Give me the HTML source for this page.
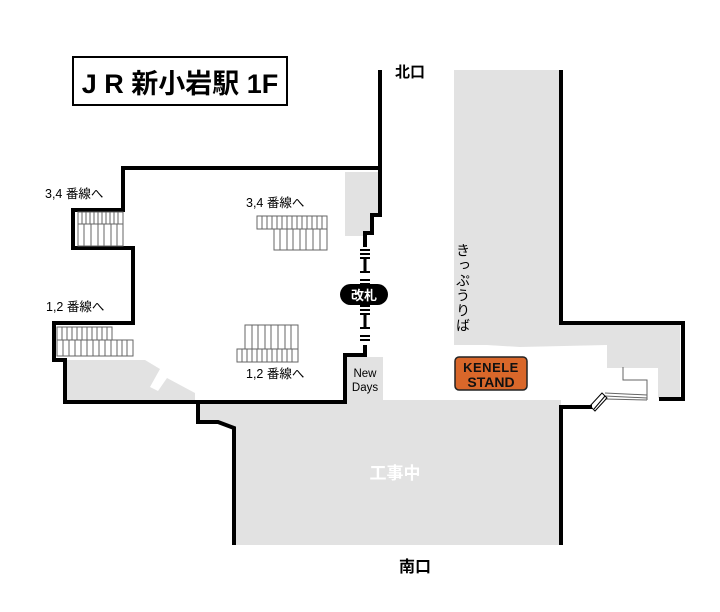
<!DOCTYPE html>
<html><head><meta charset="utf-8"><style>
html,body{margin:0;padding:0;background:#fff;width:720px;height:612px;overflow:hidden}
svg{display:block}
text{font-family:"Liberation Sans","Noto Sans CJK JP",sans-serif}
</style></head><body>
<svg width="720" height="612" viewBox="0 0 720 612" xmlns="http://www.w3.org/2000/svg">
<g fill="#e2e2e2">
<rect x="454" y="70" width="107" height="275"/>
<polygon points="454,340 561,340 561,325 680,325 680,398 658,398 658,368 607,368 607,345 520,347 454,343"/>
<rect x="234" y="402" width="327" height="143"/>
<polygon points="198,402 234,402 234,428 218,422 198,422"/>
<rect x="345" y="400" width="216" height="8"/>
<rect x="347" y="357" width="36" height="45"/>
<polygon points="345,172 378,172 378,213 371,213 371,231 364,231 364,236 345,236"/>
<polygon points="67,360 145,360 160,369 150,387 158,391 167,378 195,393 195,402 67,402"/>
</g>
<g fill="none" stroke="#000" stroke-width="4" stroke-linejoin="miter">
<polyline points="380,70 380,168 123,168 123,210 73,210 73,248 133,248 133,323 54,323 54,360 65,360 65,402 345,402 345,355 365,355 365,345"/>
<polyline points="380,168 380,215 372,215 372,233 365,233 365,247"/>
<polyline points="198,402 198,422 218,422 234,428 234,545"/>
<polyline points="561,70 561,323 683,323 683,399 659,399"/>
<polyline points="561,545 561,407 592,407"/>
</g>
<g stroke="#000" stroke-width="2">
<line x1="360" y1="250" x2="370" y2="250"/><line x1="360" y1="254" x2="370" y2="254"/>
<line x1="360" y1="258" x2="370" y2="258"/><line x1="365" y1="258" x2="365" y2="272" stroke-width="3"/><line x1="360" y1="272" x2="370" y2="272"/>
<line x1="360" y1="280" x2="370" y2="280"/><line x1="360" y1="284" x2="370" y2="284"/>
<line x1="360" y1="306" x2="370" y2="306"/><line x1="360" y1="310" x2="370" y2="310"/>
<line x1="360" y1="314" x2="370" y2="314"/><line x1="365" y1="314" x2="365" y2="328" stroke-width="3"/><line x1="360" y1="328" x2="370" y2="328"/>
<line x1="360" y1="336" x2="370" y2="336"/><line x1="360" y1="340" x2="370" y2="340"/>
</g>
<rect x="340" y="284" width="48" height="21" rx="10.5" fill="#000"/>
<text x="364" y="300" font-size="13" font-weight="bold" fill="#fff" text-anchor="middle">改札</text>
<rect x="73" y="57" width="214" height="48" fill="#fff" stroke="#000" stroke-width="2"/>
<text x="180" y="93" font-size="27" font-weight="bold" text-anchor="middle">J R 新小岩駅 1F</text>
<text x="410" y="77" font-size="15" font-weight="bold" text-anchor="middle">北口</text>
<text x="415" y="572" font-size="16" font-weight="bold" text-anchor="middle">南口</text>
<text x="395" y="479" font-size="17" font-weight="bold" fill="#fff" text-anchor="middle">工事中</text>
<g font-size="12.5">
<text x="45" y="198">3,4 番線へ</text>
<text x="46" y="311">1,2 番線へ</text>
<text x="246" y="207">3,4 番線へ</text>
<text x="246" y="378">1,2 番線へ</text>
<text x="365" y="377" text-anchor="middle" font-size="11.5">New</text>
<text x="365" y="391" text-anchor="middle" font-size="11.5">Days</text>
</g>
<text x="463" y="243" font-size="14" style="writing-mode:vertical-rl" letter-spacing="1">きっぷうりば</text>
<g fill="none" stroke="#666" stroke-width="1">
<rect x="78" y="212" width="45" height="12"/><rect x="78" y="224" width="45" height="22"/>
<path d="M82,212v12M86,212v12M90,212v12M94,212v12M98,212v12M102,212v12M106,212v12M110,212v12M114,212v12M118,212v12M84,224v22M91,224v22M98,224v22M104,224v22M111,224v22M117,224v22"/>
<rect x="57" y="327" width="55" height="13"/><rect x="57" y="340" width="76" height="16"/>
<path d="M62,327v13M67,327v13M72,327v13M77,327v13M82,327v13M87,327v13M92,327v13M97,327v13M102,327v13M107,327v13M63,340v16M69,340v16M75,340v16M81,340v16M87,340v16M93,340v16M99,340v16M105,340v16M111,340v16M117,340v16M122,340v16M127,340v16"/>
<rect x="257" y="216" width="70" height="13"/><rect x="274" y="229" width="53" height="21"/>
<path d="M262,216v13M267,216v13M272,216v13M277,216v13M282,216v13M287,216v13M292,216v13M297,216v13M302,216v13M307,216v13M312,216v13M317,216v13M322,216v13M280,229v21M287,229v21M293,229v21M300,229v21M306,229v21M313,229v21M320,229v21"/>
<rect x="245" y="325" width="53" height="24"/><rect x="237" y="349" width="61" height="13"/>
<path d="M252,325v24M258,325v24M265,325v24M271,325v24M278,325v24M285,325v24M291,325v24M242,349v13M247,349v13M252,349v13M257,349v13M262,349v13M267,349v13M272,349v13M277,349v13M282,349v13M287,349v13M292,349v13"/>
<path d="M605,393 L647,395 M605,396 L647,398 M605,399 L647,400 M647,400 V380 H623 V367"/>
<path d="M590,406 L602,393 L607,398 L595,411 Z M594,409 L605,396" stroke="#000"/>
</g>
<rect x="455" y="357" width="72" height="33" rx="4" fill="#d9672a" stroke="#222" stroke-width="1.5"/>
<text x="491" y="372" font-size="13" font-weight="bold" text-anchor="middle" fill="#111" letter-spacing="0.5">KENELE</text>
<text x="491" y="387" font-size="14" font-weight="bold" text-anchor="middle" fill="#111">STAND</text>
</svg>
</body></html>
